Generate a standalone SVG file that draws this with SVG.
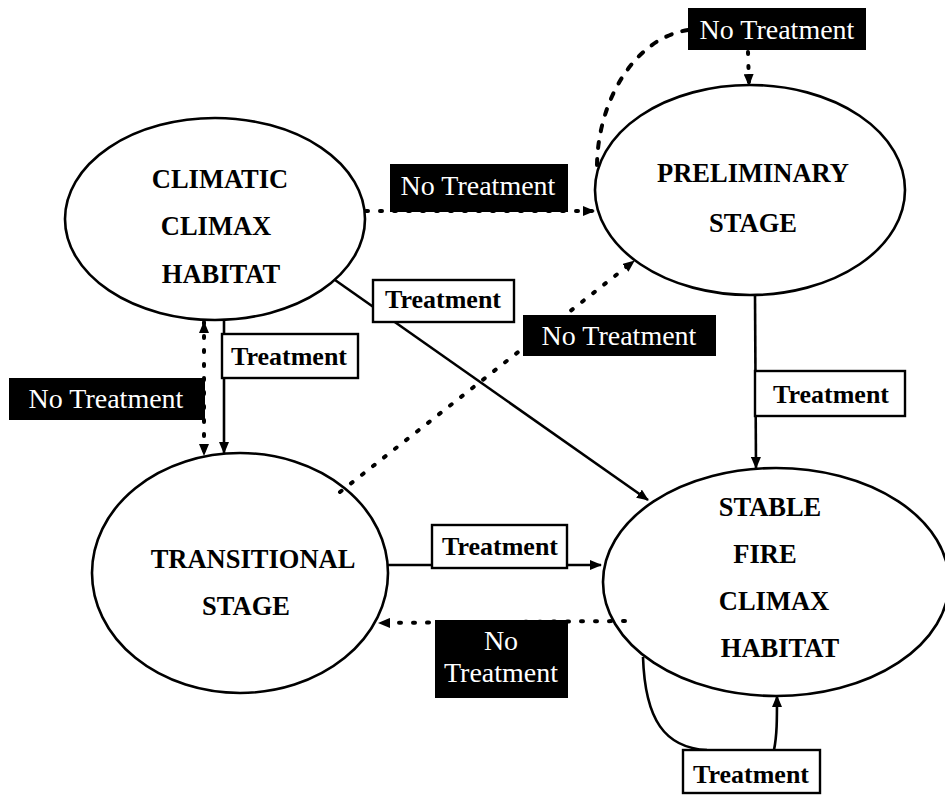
<svg xmlns="http://www.w3.org/2000/svg" width="945" height="795" viewBox="0 0 945 795">
  <style>
    .node { fill: none; stroke: #000; stroke-width: 2.6; }
    text { font-family: 'Liberation Serif', 'Times New Roman', Tinos, 'DejaVu Serif', serif; }
    .ntxt { font-size: 26.5px; font-weight: bold; fill: #000; text-anchor: middle; }
    .solid { fill: none; stroke: #000; stroke-width: 2.6; }
    .dot { fill: none; stroke: #000; stroke-width: 4; stroke-linecap: round; stroke-dasharray: 2 12; }
    .dash { fill: none; stroke: #000; stroke-width: 4; stroke-linecap: round; stroke-dasharray: 6 11; }
    .tbox { fill: #fff; stroke: #000; stroke-width: 2.4; }
    .ttxt { font-size: 26px; font-weight: bold; fill: #000; text-anchor: middle; }
    .nbox { fill: #000; stroke: none; }
    .nttxt { font-size: 28px; fill: #fff; text-anchor: middle; }
  </style>
  <defs>
    <marker id="arrow" viewBox="0 0 12 10" refX="11" refY="5" markerWidth="12" markerHeight="10" markerUnits="userSpaceOnUse" orient="auto-start-reverse">
      <path d="M0,0 L12,5 L0,10 z" fill="#000" stroke="none"/>
    </marker>
  </defs>
  <rect width="945" height="795" fill="#fff"/>

  <!-- states -->
  <g id="climatic-climax" font-family="Liberation Serif, serif">
    <ellipse class="node" cx="215" cy="219" rx="150" ry="101"/>
    <text class="ntxt" x="220" y="188">CLIMATIC</text>
    <text class="ntxt" x="216" y="235">CLIMAX</text>
    <text class="ntxt" x="221" y="283">HABITAT</text>
  </g>
  <g id="preliminary" font-family="Liberation Serif, serif">
    <ellipse class="node" cx="750" cy="190" rx="155" ry="105"/>
    <text class="ntxt" x="753" y="182">PRELIMINARY</text>
    <text class="ntxt" x="753" y="232">STAGE</text>
  </g>
  <g id="transitional" font-family="Liberation Serif, serif">
    <ellipse class="node" cx="240" cy="573" rx="148" ry="120"/>
    <text class="ntxt" x="253" y="568">TRANSITIONAL</text>
    <text class="ntxt" x="246" y="615">STAGE</text>
  </g>
  <g id="stable-fire-climax" font-family="Liberation Serif, serif">
    <ellipse class="node" cx="776" cy="582" rx="173" ry="114"/>
    <text class="ntxt" x="770" y="516">STABLE</text>
    <text class="ntxt" x="765" y="563">FIRE</text>
    <text class="ntxt" x="774" y="610">CLIMAX</text>
    <text class="ntxt" x="780" y="657">HABITAT</text>
  </g>

  <!-- transitions -->
  <g id="connectors" font-family="Liberation Serif, serif">
    <!-- climatic -> preliminary (no treatment) -->
    <path class="dot" d="M366,211 L594,211" marker-end="url(#arrow)"/>
    <!-- preliminary self loop (no treatment) -->
    <path class="dash" d="M597,165 C598,100 635,38 688,30"/>
    <path class="dot" d="M748,52 L749,85" marker-end="url(#arrow)"/>
    <!-- transitional -> preliminary (no treatment) -->
    <path class="dot" d="M340,492 L634,261" marker-end="url(#arrow)"/>
    <!-- climatic -> stable (treatment) -->
    <path class="solid" d="M335,280 L648,500" marker-end="url(#arrow)"/>
    <!-- climatic <-> transitional (no treatment) -->
    <path class="dot" d="M204,322 L204,455" marker-start="url(#arrow)" marker-end="url(#arrow)"/>
    <!-- climatic -> transitional (treatment) -->
    <path class="solid" d="M224,320 L224,453" marker-end="url(#arrow)"/>
    <!-- preliminary -> stable (treatment) -->
    <path class="solid" d="M755,295 L756,468" marker-end="url(#arrow)"/>
    <!-- transitional -> stable (treatment) -->
    <path class="solid" d="M388,565 L601,565" marker-end="url(#arrow)"/>
    <!-- stable -> transitional (no treatment) -->
    <path class="dot" d="M625,621 L379,623" marker-end="url(#arrow)"/>
    <!-- stable self loop (treatment) -->
    <path class="solid" d="M643,657 C645,720 665,748 707,750"/>
    <path class="solid" d="M774,750 C777,735 777,720 777,696" marker-end="url(#arrow)"/>

    <!-- labels -->
    <g id="lbl-nt-top">
      <rect class="nbox" x="688" y="8" width="178" height="42"/>
      <text class="nttxt" x="777" y="39">No Treatment</text>
    </g>
    <g id="lbl-nt-upper">
      <rect class="nbox" x="390" y="164" width="178" height="48"/>
      <text class="nttxt" x="478" y="195">No Treatment</text>
    </g>
    <g id="lbl-nt-middle">
      <rect class="nbox" x="523" y="315" width="193" height="41"/>
      <text class="nttxt" x="619" y="345">No Treatment</text>
    </g>
    <g id="lbl-nt-left">
      <rect class="nbox" x="9" y="378" width="196" height="42"/>
      <text class="nttxt" x="106" y="408">No Treatment</text>
    </g>
    <g id="lbl-nt-bottom">
      <rect class="nbox" x="435" y="620" width="133" height="78"/>
      <text class="nttxt" x="501" y="650">No</text>
      <text class="nttxt" x="501" y="682">Treatment</text>
    </g>
    <g id="lbl-t-diag">
      <rect class="tbox" x="373" y="280" width="141" height="42"/>
      <text class="ttxt" x="443" y="308">Treatment</text>
    </g>
    <g id="lbl-t-left">
      <rect class="tbox" x="222" y="334" width="136" height="44"/>
      <text class="ttxt" x="289" y="365">Treatment</text>
    </g>
    <g id="lbl-t-right">
      <rect class="tbox" x="755" y="371" width="150" height="45"/>
      <text class="ttxt" x="831" y="403">Treatment</text>
    </g>
    <g id="lbl-t-horiz">
      <rect class="tbox" x="432" y="525" width="135" height="43"/>
      <text class="ttxt" x="500" y="555">Treatment</text>
    </g>
    <g id="lbl-t-bottom">
      <rect class="tbox" x="683" y="750" width="137" height="43"/>
      <text class="ttxt" x="751" y="783">Treatment</text>
    </g>
  </g>
</svg>
